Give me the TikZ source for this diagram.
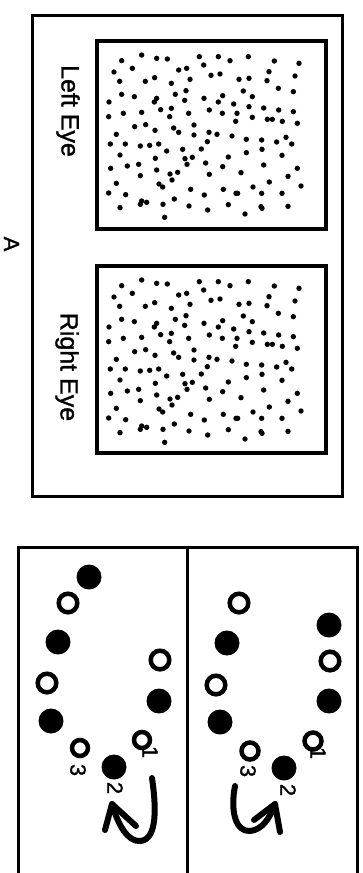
\documentclass[tikz,border=0pt]{standalone}
\usepackage{fontspec}
\setmainfont{Liberation Sans}
\newfontfamily\heavyfont[FakeBold=1.2]{Liberation Sans}
\begin{document}
\begin{tikzpicture}[x=1pt,y=-1pt,
  frame/.style={line width=3pt},
  eyebox/.style={line width=3.5pt},
  lbl/.style={rotate=-90, font=\heavyfont\fontsize{25}{25}\selectfont, inner sep=0pt},
  biglbl/.style={rotate=-90, font=\heavyfont\fontsize{22}{22}\selectfont, inner sep=0pt},
  numlbl/.style={rotate=-90, font=\heavyfont\fontsize{22}{22}\selectfont, inner sep=0pt},
  disk/.style={fill=black},
  ring/.style={draw=black, line width=4.5pt},
  arr/.style={line width=6pt, line cap=round, line join=round}
]
\useasboundingbox (0,0) rectangle (362,873);
% panel A
\draw[frame] (32,15) rectangle (342,496);
\draw[eyebox] (97,41) rectangle (326,229);
\draw[eyebox] (97,266) rectangle (326,453);
\node[lbl] (lefteye) at (68,111) {Left Eye};
\node[lbl] (righteye) at (67,367) {Right Eye};
\node[biglbl] (labelA) at (11.5,244) {A};
% random dots
\foreach \oy in {40,265}{
\foreach \X/\Y in {155/45,95/62,200/55,232/57,328/50,385/50,420/62,475/50,553/63,627/70,
72/96,127/85,266/90,290/85,341/75,363/106,390/102,447/118,477/115,537/95,615/108,
89/124,166/124,194/113,244/130,300/118,531/122,565/145,610/155,
95/163,133/170,200/175,256/163,288/152,342/175,398/167,460/153,487/170,
57/186,193/186,284/181,385/186,431/192,477/200,521/204,566/210,610/215,
56/230,100/220,155/217,212/209,244/205,239/230,296/220,358/210,397/220,441/220,487/232,532/238,547/238,577/244,622/250,
134/260,167/254,195/271,251/264,266/277,312/255,312/285,357/277,381/283,437/244,426/288,469/298,515/300,588/292,560/306,605/312,
79/283,61/312,106/312,151/318,179/316,206/312,230/333,278/328,334/327,352/305,469/338,516/328,
90/345,196/355,285/356,307/352,415/351,576/346,
62/385,112/378,146/373,200/390,291/373,347/369,398/380,453/398,521/375,622/385,
151/407,240/402,263/397,246/420,358/403,538/426,594/409,
79/430,207/432,218/441,302/448,400/448,489/441,633/438,
56/459,107/464,343/465,438/460,443/460,515/460,576/460,
155/483,170/487,151/493,253/477,219/493,297/498,415/494,513/500,516/505,594/499,
90/503,353/510,465/522,224/532}{
  \fill (90+\X/3,\oy+\Y/3) circle[radius=2.7pt];
}}
% panel B
\draw[frame] (18,880) -- (18,547) -- (357,547) -- (357,880);
\draw[frame] (187,547) -- (187,880);
% left half
\foreach \px/\py in {89/577,58/642,51/721,159/701,114/767}{
  \fill[disk] (\px,\py) circle[radius=12.5pt];}
\foreach \px/\py in {68/603,47/683,160/660}{
  \draw[ring] (\px,\py) circle[radius=9.3pt];}
\draw[ring] (80,748) circle[radius=8pt];
\draw[ring] (142,740) circle[radius=8pt];
\node[numlbl] (l3) at (78,770) {3};
\node[numlbl] (l2) at (115,788) {2};
\node[numlbl] (l1) at (150,752) {1};
% right half
\foreach \px/\py in {227/643,220/722,284/768,329/701,329/625}{
  \fill[disk] (\px,\py) circle[radius=12.5pt];}
\foreach \px/\py in {239/603,216/685,330/661}{
  \draw[ring] (\px,\py) circle[radius=9.3pt];}
\draw[ring] (250,751) circle[radius=8.5pt];
\draw[ring] (313,741) circle[radius=8.5pt];
\node[numlbl] (r3) at (248,771) {3};
\node[numlbl] (r2) at (288,790) {2};
\node[numlbl] (r1) at (318,753) {1};
% arrows
\coordinate (la0) at (152,778);
\coordinate (latip) at (112,804);
\draw[arr] (la0) .. controls (156,805) and (158,840) .. (140,841)
  .. controls (128,842) and (118,825) .. (latip);
\draw[arr] (105,830) -- (latip) -- (136,826);
\coordinate (ra0) at (235,786);
\coordinate (ratip) at (275,804);
\draw[arr] (ra0) .. controls (230,812) and (236,832) .. (250,831)
  .. controls (262,830) and (270,818) .. (ratip);
\draw[arr] (254,820) -- (ratip) -- (280,832);
\end{tikzpicture}
\end{document}
